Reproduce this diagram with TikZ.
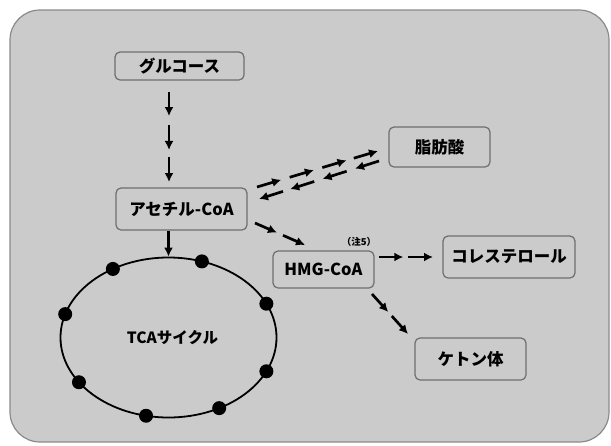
\documentclass[tikz,border=0pt]{standalone}
\usepackage{fontspec}
\setmainfont{Noto Sans CJK JP}[BoldFont={Noto Sans CJK JP Black}]
\usetikzlibrary{arrows.meta,calc,shapes.geometric}
\definecolor{bgfill}{HTML}{CBCBCB}
\definecolor{bgline}{HTML}{8A8A8A}
\definecolor{boxline}{HTML}{6E6E6E}
\tikzset{
  stepbox/.style={draw=boxline,line width=1.2pt,rounded corners=5pt,fill=bgfill,
    inner sep=0pt,font=\fontsize{16.5}{20}\selectfont\bfseries},
  arr/.style={line width=2.7pt,-{Latex[length=9pt,width=9pt]}},
  dot/.style={circle,fill=black,inner sep=0pt,minimum size=14pt},
}
\begin{document}
\begin{tikzpicture}[x=1pt,y=-1pt]
\useasboundingbox (0,0) rectangle (611,445);
\draw[bgline,fill=bgfill,line width=1.2pt,rounded corners=30pt] (10,10) rectangle (609,442);
\node[stepbox,minimum width=129pt,minimum height=28pt] (glu) at (179.5,66) {グルコース};
\node[stepbox,minimum width=131pt,minimum height=42pt] (ace) at (181.5,209) {アセチル-CoA};
\node[stepbox,minimum width=101pt,minimum height=40pt] (fat) at (439.5,147) {脂肪酸};
\node[stepbox,minimum width=101pt,minimum height=37pt] (hmg) at (323.5,269.5) {HMG-CoA};
\node[font=\fontsize{9.5}{11}\selectfont\bfseries,inner sep=0pt] (note) at (359,242) {（注5）};
\node[stepbox,minimum width=132pt,minimum height=42pt] (chol) at (509,257) {コレステロール};
\node[stepbox,minimum width=111pt,minimum height=42pt] (ket) at (470.5,359) {ケトン体};
\node[ellipse,draw=black,line width=1.8pt,minimum width=216pt,minimum height=160pt,inner sep=0pt,
  font=\fontsize{15.5}{18}\selectfont\bfseries] (tca) at (168.5,337.5) {\hspace*{8pt}TCAサイクル};
\foreach \t in {25,72,121,163,214,258,298,335}
  \node[dot] at ({168.5+108*cos(\t)},{337.5-80*sin(\t)}) {};
% glucose -> acetyl
\coordinate (gs) at (169,92);
\coordinate (ge) at (169,182);
\foreach \a/\b in {0/0.267,0.367/0.644,0.722/1}
  \draw[arr] ($(gs)!\a!(ge)$) -- ($(gs)!\b!(ge)$);
% acetyl -> tca
\draw[arr] (ace.south -| tca.north) -- (tca.north);
% acetyl <-> fatty acid
\coordinate (fs) at (257,187);
\coordinate (fe) at (378,151);
\coordinate (rs) at (379,161);
\coordinate (re) at (259,199);
\foreach \a/\b in {0/0.2,0.27/0.47,0.54/0.74,0.8/1}{
  \draw[arr] ($(fs)!\a!(fe)$) -- ($(fs)!\b!(fe)$);
  \draw[arr] ($(rs)!\a!(re)$) -- ($(rs)!\b!(re)$);
}
% acetyl -> hmg
\coordinate (hs) at (255,223);
\coordinate (he) at (305,245);
\foreach \a/\b in {0/0.44,0.56/1}
  \draw[arr] ($(hs)!\a!(he)$) -- ($(hs)!\b!(he)$);
% hmg -> cholesterol
\coordinate (cs) at (379,257);
\coordinate (ce) at (433,257);
\foreach \a/\b in {0/0.45,0.54/1}
  \draw[arr] ($(cs)!\a!(ce)$) -- ($(cs)!\b!(ce)$);
% hmg -> ketone
\coordinate (ks) at (372,294);
\coordinate (ke) at (408,334);
\foreach \a/\b in {0/0.45,0.55/1}
  \draw[arr] ($(ks)!\a!(ke)$) -- ($(ks)!\b!(ke)$);
\end{tikzpicture}
\end{document}
